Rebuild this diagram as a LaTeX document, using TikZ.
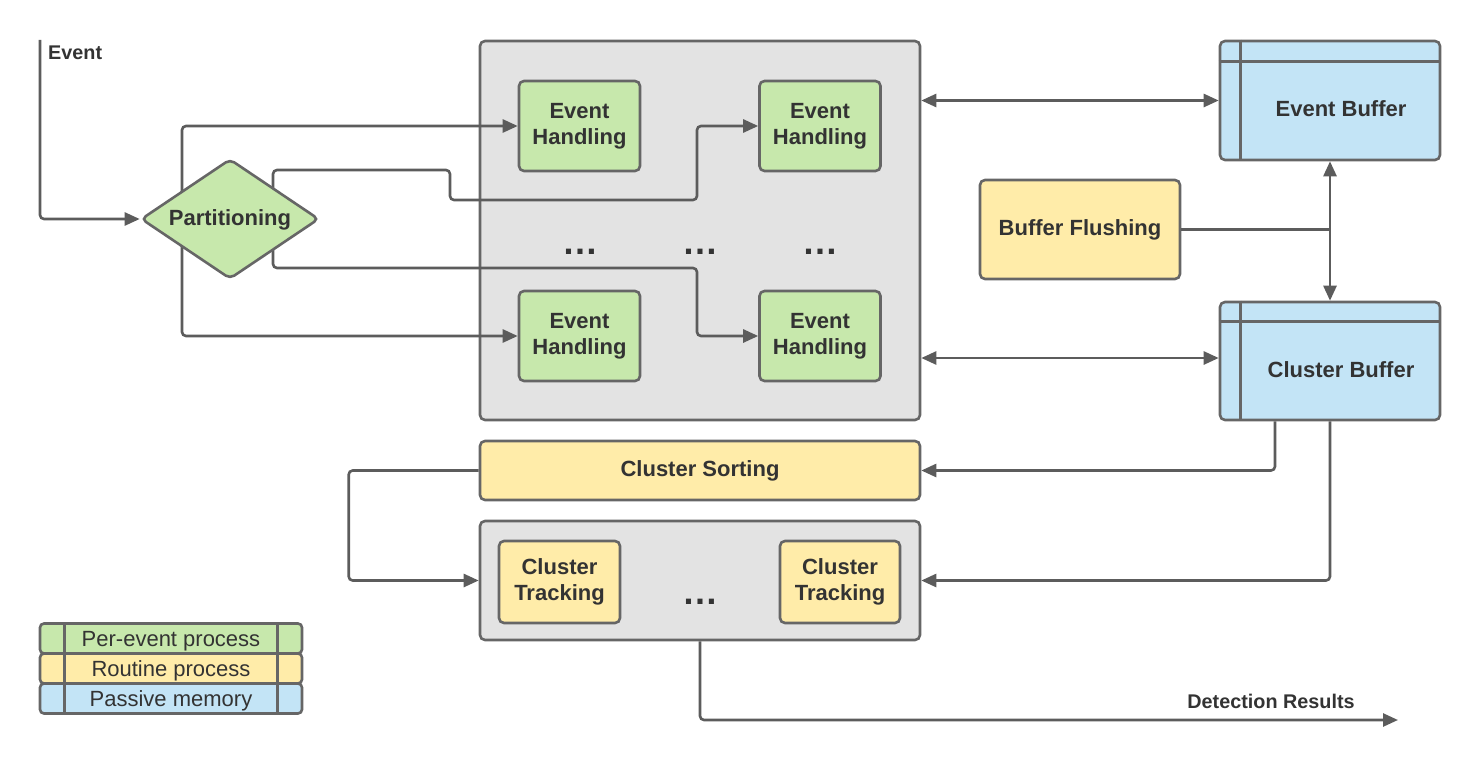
\documentclass[tikz,border=0pt]{standalone}
\usepackage{fontspec}
\setmainfont{Liberation Sans}
\usetikzlibrary{arrows.meta,shapes.geometric,calc}
\definecolor{strk}{HTML}{666666}
\definecolor{wire}{HTML}{5C5C5C}
\definecolor{txt}{HTML}{333333}
\definecolor{grayfill}{HTML}{E3E3E3}
\definecolor{greenfill}{HTML}{C7E8AC}
\definecolor{yellowfill}{HTML}{FFECA9}
\definecolor{bluefill}{HTML}{C3E4F6}
\pgfdeclarelayer{back}
\pgfdeclarelayer{wires}
\pgfsetlayers{back,wires,main}
\tikzset{
  box/.style={draw=strk, line width=2.6, rounded corners=5, align=center,
    font=\bfseries\fontsize{22}{26}\selectfont, text=txt, inner sep=0},
  procbox/.style={box, fill=greenfill},
  routbox/.style={box, fill=yellowfill},
  membox/.style={box, fill=bluefill},
  holder/.style={box, fill=grayfill},
  legbox/.style={box, rounded corners=4, font=\fontsize{22}{26}\selectfont,
    text height=16, text depth=1},
  sepline/.style={draw=strk, line width=2.6},
  link/.style={draw=wire, line width=2.6, rounded corners=4,
    -{Triangle[length=15,width=13]}},
  dlink/.style={link, {Triangle[length=15,width=13]}-{Triangle[length=15,width=13]}},
  plain/.style={draw=wire, line width=2.6, rounded corners=4},
  lbl/.style={text=txt, font=\bfseries\fontsize{19.8}{22}\selectfont, inner sep=0},
  dots/.style={text=txt, font=\bfseries\fontsize{36}{36}\selectfont, inner sep=0},
}
\begin{document}
\begin{tikzpicture}[x=1pt, y=-1pt]
\useasboundingbox (0,0) rectangle (1480,760);

% containers
\begin{pgfonlayer}{back}
\node[holder, minimum width=440, minimum height=379] (hc) at (700,230.5) {};
\node[holder, minimum width=440, minimum height=119] (ct) at (700,580.5) {};
\end{pgfonlayer}

% partitioning
\node[procbox, diamond, minimum width=178, minimum height=120] (part) at (230,219) {};
\node[text=txt, font=\bfseries\fontsize{22}{26}\selectfont] (partt) at (230,220) {Partitioning};

% event handling workers
\node[procbox, minimum width=121, minimum height=90] (eh1) at (579.5,126) {Event\\Handling};
\node[procbox, minimum width=121, minimum height=90] (eh2) at (820,126) {Event\\Handling};
\node[procbox, minimum width=121, minimum height=90] (eh3) at (579.5,336) {Event\\Handling};
\node[procbox, minimum width=121, minimum height=90] (eh4) at (820,336) {Event\\Handling};
\node[dots] (d1) at (580,252) {…};
\node[dots] (d2) at (700,252) {…};
\node[dots] (d3) at (820,252) {…};

% buffers
\node[membox, minimum width=220, minimum height=119] (eb) at (1330,100.5) {};
\draw[sepline] ($(eb.north west)+(22,0)$) -- ($(eb.south west)+(22,0)$);
\draw[sepline] ($(eb.north west)+(0,22)$) -- ($(eb.north east)+(0,22)$);
\node[text=txt, font=\bfseries\fontsize{22}{26}\selectfont] (ebt) at (1341,109) {Event Buffer};

\node[membox, minimum width=220, minimum height=118] (cb) at (1330,361) {};
\draw[sepline] ($(cb.north west)+(22,0)$) -- ($(cb.south west)+(22,0)$);
\draw[sepline] ($(cb.north west)+(0,21)$) -- ($(cb.north east)+(0,21)$);
\node[text=txt, font=\bfseries\fontsize{22}{26}\selectfont] (cbt) at (1341,370) {Cluster Buffer};

\node[routbox, minimum width=200, minimum height=99] (bf) at (1080,229.5) {Buffer Flushing};

% cluster stage
\node[routbox, minimum width=440, minimum height=59] (cs) at (700,470.5) {Cluster Sorting};
\node[routbox, minimum width=121, minimum height=82] (ct1) at (559.5,582) {Cluster\\Tracking};
\node[routbox, minimum width=120, minimum height=82] (ct2) at (840,582) {Cluster\\Tracking};
\node[dots] (d4) at (700,602) {…};

% legend
\node[legbox, fill=greenfill, minimum width=262, minimum height=30] (lg1) at (171,638.5) {Per-event process};
\node[legbox, fill=yellowfill, minimum width=262, minimum height=30] (lg2) at (171,668.5) {Routine process};
\node[legbox, fill=bluefill, minimum width=262, minimum height=30] (lg3) at (171,698.5) {Passive memory};
\foreach \r in {lg1,lg2,lg3}{
  \draw[sepline] ($(\r.north west)+(26,0)$) -- ($(\r.south west)+(26,0)$);
  \draw[sepline] ($(\r.north east)+(-26,0)$) -- ($(\r.south east)+(-26,0)$);
}

% connectors
\coordinate (evin) at (40,40);
\node[lbl, anchor=west] (evl) at (48,53) {Event};
\draw[link] (evin) |- (part.west);

\begin{pgfonlayer}{wires}
\draw[link] ($(part.center)+(-48,0)$) |- (eh1.west);
\draw[link] ($(part.center)+(-48,0)$) |- (eh3.west);
\draw[link] ($(part.center)+(43,0)$) |- (450,170) |- (697,200) |- (eh2.west);
\draw[link] ($(part.center)+(43,0)$) |- (697,268) |- (eh4.west);
\end{pgfonlayer}

\draw[dlink] (eb.west -| hc.east) -- (eb.west);
\draw[dlink] ($(cb.west -| hc.east)+(0,-3)$) -- ($(cb.west)+(0,-3)$);
\draw[plain] (bf.east) -- (bf.east -| eb.south);
\draw[dlink] (eb.south) -- (cb.north);

\draw[link] ($(cb.south)+(-55,0)$) |- (cs.east);
\draw[link] (cb.south) |- (ct.east);
\draw[link] (cs.west) -- ++(-130,0) |- (ct.west);

\coordinate (res) at (1398,720);
\draw[link] (ct.south) |- (res);
\node[lbl] (resl) at (1271,701) {Detection Results};
\end{tikzpicture}
\end{document}
